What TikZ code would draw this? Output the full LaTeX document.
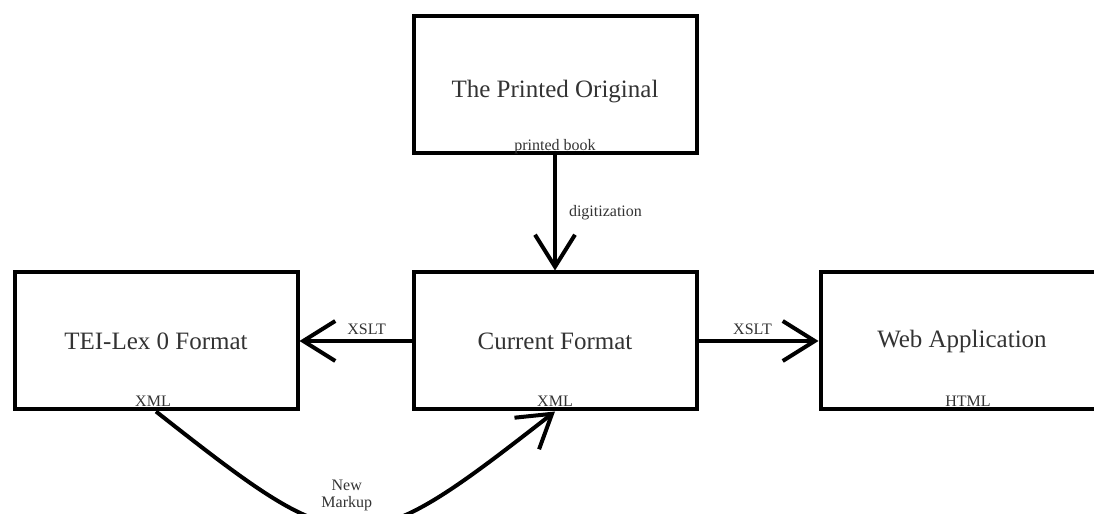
\documentclass[tikz,border=0pt]{standalone}
\usepackage{fontspec}
\setmainfont{Liberation Serif}
\usetikzlibrary{arrows.meta}

\begin{document}
\begin{tikzpicture}[x=0.5pt, y=0.5pt,
    every node/.style={text=black!80},
    stage/.style={draw=black, line width=2pt, minimum width=141.5pt,
      minimum height=68.5pt, font=\fontsize{12.5}{15}\selectfont},
    tag/.style={anchor=base, yshift=2.5pt, inner sep=0pt,
      font=\fontsize{8}{8.5}\selectfont},
    note/.style={inner sep=1pt, align=center, font=\fontsize{8}{8.5}\selectfont},
    flow/.style={line width=2pt, -{Straight Barb[length=16pt, width=20pt]}}]
      \useasboundingbox (0,0) rectangle (1094,514);
      \clip (0,0) rectangle (1094,514);

      % Stages
      \node[stage, text height=15.5pt, text depth=2.7pt] (orig) at (555,429) {The Printed Original};
      \node[stage] (tei) at (156,173) {TEI-Lex 0 Format};
      \node[stage] (cur) at (555,173) {Current Format};
      \node[stage] (web) at (962,173) {Web Application};

      % Formats
      \node[tag] (origfmt) at (orig.south) {printed book};
      \node[tag] (teifmt) at ([xshift=-1.5pt]tei.south) {XML};
      \node[tag] (curfmt) at (cur.south) {XML};
      \node[tag] (webfmt) at ([xshift=3pt]web.south) {HTML};

      % Conversions
      \draw[flow] (orig) -- node[note, right=5pt] {digitization} (cur);
      \draw[flow] (cur) -- node[note, above=1pt, pos=0.4] {XSLT} (tei);
      \draw[flow] (cur) -- node[note, above=1pt, pos=0.45] {XSLT} (web);
      \draw[flow] (tei.south) .. controls (351,-51) and (358,-51) ..
        node[note, above=6pt, xshift=-4pt] {New\\Markup} (cur.south);
    \end{tikzpicture}
\end{document}
